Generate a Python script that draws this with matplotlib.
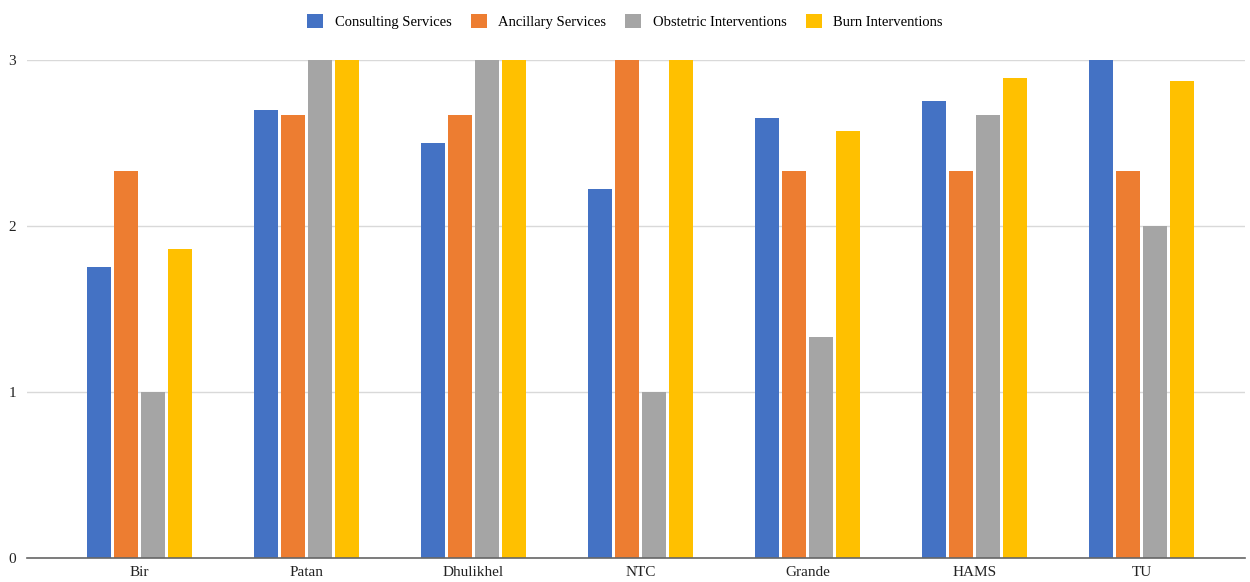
import numpy as np
import matplotlib.pyplot as plt

plt.rcParams['font.family'] = ['Liberation Serif', 'DejaVu Serif']

hospitals = ["Bir", "Patan", "Dhulikhel", "NTC", "Grande", "HAMS", "TU"]
series_names = ["Consulting Services", "Ancillary Services",
                "Obstetric Interventions", "Burn Interventions"]
consulting = [1.75, 2.70, 2.50, 2.22, 2.65, 2.75, 3.00]
ancillary = [2.33, 2.67, 2.67, 3.00, 2.33, 2.33, 2.33]
obstetric = [1.00, 3.00, 3.00, 1.00, 1.33, 2.67, 2.00]
burn = [1.86, 3.00, 3.00, 3.00, 2.57, 2.89, 2.87]
colors = ["#4472C4", "#ED7D31", "#A5A5A5", "#FFC000"]

fig = plt.figure(figsize=(12.5, 5.82), dpi=100)
ax = fig.add_axes([0.0216, 0.0412, 0.9744, 0.856])

x = np.arange(len(hospitals))
step = 0.162
width = 0.145
for i, (vals, name, c) in enumerate(zip([consulting, ancillary, obstetric, burn], series_names, colors)):
    ax.bar(x + (i - 1.5) * step, vals, width, color=c, label=name, zorder=3)

ax.set_xlim(-0.674, 6.62)
ax.set_ylim(0, 3)
ax.set_yticks([0, 1, 2, 3])
ax.set_xticks(x)
ax.set_xticklabels(hospitals)
ax.grid(axis='y', color='#d9d9d9', linewidth=1, zorder=0)
for s in ['top', 'right', 'left']:
    ax.spines[s].set_visible(False)
ax.spines['bottom'].set_color('#666666')
ax.spines['bottom'].set_linewidth(1.2)
ax.spines['bottom'].set_zorder(4)
ax.tick_params(axis='both', length=0, labelsize=11, colors='#222222')
ax.tick_params(axis='y', pad=8)
ax.tick_params(axis='x', pad=6)

fig.legend(loc='upper center', bbox_to_anchor=(0.5, 0.998), ncol=4, frameon=False,
           fontsize=10.5, handlelength=1.1, handleheight=1.1, columnspacing=1.3,
           handletextpad=0.8)

fig.savefig("out.png", dpi=100)
